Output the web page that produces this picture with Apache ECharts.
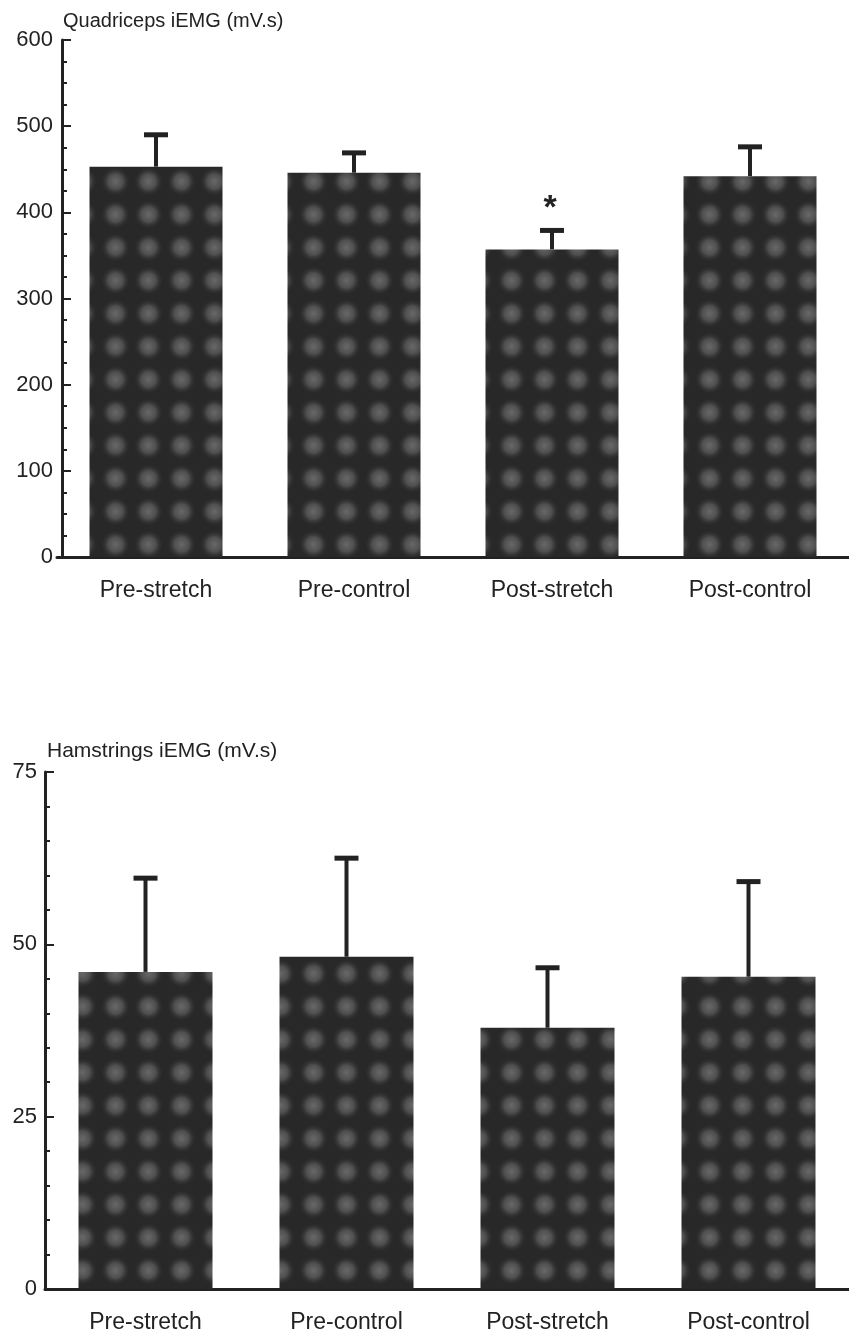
<!DOCTYPE html>
<html>
<head>
<meta charset="utf-8">
<script src="https://cdn.jsdelivr.net/npm/echarts@6/dist/echarts.min.js"></script>
<style>
html, body { margin: 0; padding: 0; background: #fff; }
#main { width: 849px; height: 1336px; }
</style>
</head>
<body>
<div id="main"></div>
<script>
// data
var categories = ['Pre-stretch', 'Pre-control', 'Post-stretch', 'Post-control'];
var quadMean = [453, 446, 357, 442];
var quadErr = [37, 23, 22, 34];
var quadMarks = ['', '', '*', ''];
var hamMean = [46.0, 48.2, 37.9, 45.3];
var hamErr = [13.6, 14.3, 8.7, 13.8];
var hamMarks = ['', '', '', ''];

var ink = '#222';
var font = 'Liberation Sans, Arial, sans-serif';

// dotted dark fill like the printed bars
function makeTexture() {
    var c = document.createElement('canvas');
    c.width = 33;
    c.height = 33;
    var ctx = c.getContext('2d');
    ctx.fillStyle = '#282828';
    ctx.fillRect(0, 0, 33, 33);
    var g = ctx.createRadialGradient(16.5, 16.5, 0, 16.5, 16.5, 15);
    g.addColorStop(0, '#686868');
    g.addColorStop(0.5, '#4e4e4e');
    g.addColorStop(1, 'rgba(40,40,40,0)');
    ctx.fillStyle = g;
    ctx.fillRect(0, 0, 33, 33);
    return c;
}
var texture = makeTexture();

function errData(mean, err) {
    return mean.map(function (m, i) { return [i, m, err[i]]; });
}

function errorBars(marks) {
    return function (params, api) {
        var x = api.value(0), mean = api.value(1), err = api.value(2);
        var base = api.coord([x, mean]);
        var top = api.coord([x, mean + err]);
        var children = [
            { type: 'line', shape: { x1: base[0], y1: base[1], x2: top[0], y2: top[1] }, style: { stroke: ink, lineWidth: 4 } },
            { type: 'line', shape: { x1: top[0] - 12, y1: top[1], x2: top[0] + 12, y2: top[1] }, style: { stroke: ink, lineWidth: 5 } }
        ];
        var m = marks[params.dataIndex];
        if (m) {
            children.push({
                type: 'text',
                style: { text: m, x: top[0] - 2, y: top[1] - 22, fill: ink, font: 'bold 34px ' + font, textAlign: 'center', textVerticalAlign: 'middle' }
            });
        }
        return { type: 'group', children: children };
    };
}

function xAxisOf(idx) {
    return {
        type: 'category', gridIndex: idx, data: categories,
        axisTick: { show: false },
        axisLine: { lineStyle: { color: ink, width: 3 } },
        axisLabel: { color: ink, fontSize: 23, fontFamily: font, margin: 22 }
    };
}

var myChart = echarts.init(document.getElementById('main'));

var option = {
    animation: false,
    title: [
        { text: 'Quadriceps iEMG (mV.s)', left: 58, top: 6, textStyle: { fontSize: 20, fontWeight: 'normal', color: ink, fontFamily: font } },
        { text: 'Hamstrings iEMG (mV.s)', left: 42, top: 736, textStyle: { fontSize: 21, fontWeight: 'normal', color: ink, fontFamily: font } }
    ],
    grid: [
        { left: 57, right: -8, top: 40, height: 517 },
        { left: 45, right: -8, top: 772, height: 517 }
    ],
    xAxis: [xAxisOf(0), xAxisOf(1)],
    yAxis: [
        {
            type: 'value', gridIndex: 0, min: 0, max: 600, interval: 100, offset: -5,
            splitLine: { show: false },
            axisLine: { show: true, lineStyle: { color: ink, width: 3 } },
            axisTick: { show: true, inside: true, length: 9, lineStyle: { width: 2 } },
            minorTick: { show: true, splitNumber: 4, length: 5, lineStyle: { color: ink, width: 2 } },
            axisLabel: { color: ink, fontSize: 22, fontFamily: font, margin: 9 }
        },
        {
            type: 'value', gridIndex: 1, min: 0, max: 75, interval: 25,
            splitLine: { show: false },
            axisLine: { show: true, lineStyle: { color: ink, width: 3 } },
            axisTick: { show: true, inside: true, length: 9, lineStyle: { width: 2 } },
            minorTick: { show: true, splitNumber: 5, length: 5, lineStyle: { color: ink, width: 2 } },
            axisLabel: { color: ink, fontSize: 22, fontFamily: font, margin: 8 }
        }
    ],
    series: [
        {
            name: 'Quadriceps', type: 'bar', xAxisIndex: 0, yAxisIndex: 0, barWidth: 133,
            itemStyle: { color: { image: texture, repeat: 'repeat' } },
            data: quadMean
        },
        {
            type: 'custom', xAxisIndex: 0, yAxisIndex: 0, z: 5,
            renderItem: errorBars(quadMarks),
            data: errData(quadMean, quadErr)
        },
        {
            name: 'Hamstrings', type: 'bar', xAxisIndex: 1, yAxisIndex: 1, barWidth: 134,
            itemStyle: { color: { image: texture, repeat: 'repeat' } },
            data: hamMean
        },
        {
            type: 'custom', xAxisIndex: 1, yAxisIndex: 1, z: 5,
            renderItem: errorBars(hamMarks),
            data: errData(hamMean, hamErr)
        }
    ]
};

myChart.setOption(option);
</script>
</body>
</html>
